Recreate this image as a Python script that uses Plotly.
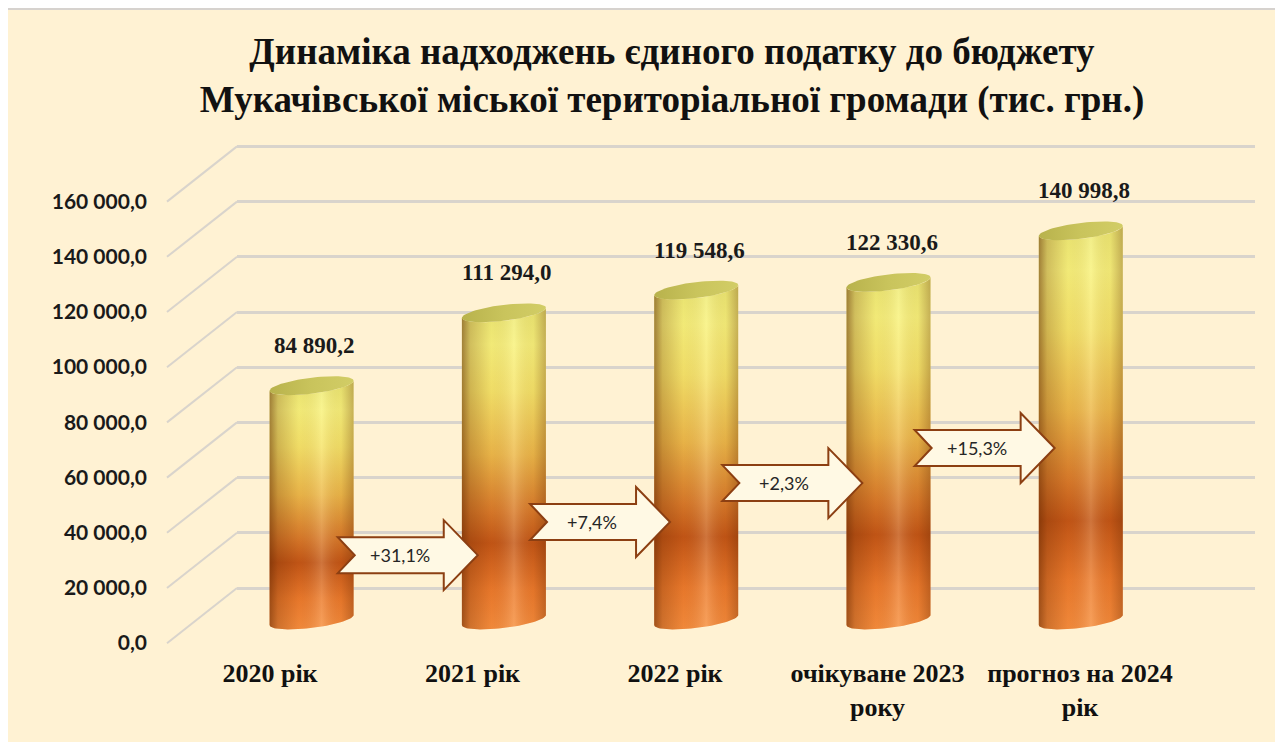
import numpy as np
import plotly.graph_objects as go

# ---------------- data ----------------
categories = ["2020 рік", "2021 рік", "2022 рік", "очікуване 2023<br>року", "прогноз на 2024<br>рік"]
values = [84890.2, 111294.0, 119548.6, 122330.6, 140998.8]
y_ticks = [0, 20000, 40000, 60000, 80000, 100000, 120000, 140000, 160000]
title_text = "Динаміка надходжень єдиного податку до бюджету<br>Мукачівської міської територіальної громади (тис. грн.)"

# growth arrows: vertical level (value units on bar axis) where each arrow sits
arrow_levels = [23500, 35500, 49600, 62300]

# ---------------- geometry (pixels of the target picture) ----------------
OFF = 8                    # page body margin
W, H = 1283 - OFF, 742 - OFF
S = 55.2 / 20000          # pixels per value unit
TOP, BOT = 130, 700       # vertical extent of plotting domain
BACK0, BAR0, LAB0 = 588, 620, 643   # pixel row of value 0 on back wall / bars / labels
U = 192.3                  # px per category on bar axis
BAR_X0 = 311.6 - OFF       # px of first bar centre (figure coords)
LAB_U, LAB_X0 = 202.5, 270 - OFF  # category label spacing / first label centre


def yrange(p0):
    return [(p0 - BOT) / S, (p0 - TOP) / S]


def py(p):
    return 1 - (p - OFF) / H


def px(p):
    return (p - OFF) / W


FONT_SERIF = "Liberation Serif"
FONT_SANS = "Lato"
GRID = "#D9D4CC"
BG = "#FFF2D3"

fig = go.Figure()

# invisible helper traces so every axis pair is created
fig.add_trace(go.Scatter(x=[0.5], y=[0], xaxis="x", yaxis="y", mode="markers",
                         marker=dict(opacity=0), hoverinfo="skip", showlegend=False))
fig.add_trace(go.Scatter(x=[0], y=[0], xaxis="x3", yaxis="y3", mode="markers",
                         marker=dict(opacity=0), hoverinfo="skip", showlegend=False))

# ---------------- cylinders ----------------
hw = 42 / U                # half width (x units)
e = 8 / S                  # ellipse semi-minor (value units)
t = 5 / S                  # tilt (value units)
th_bot = np.linspace(np.pi, 2 * np.pi, 40)
th_topfront = np.linspace(2 * np.pi, np.pi, 40)
th_full = np.linspace(0, 2 * np.pi, 80)

body_scale = [
    [0.0, "#F68C3C"], [0.12, "#EC7A2C"], [0.27, "#C45616"], [0.37, "#D97A2A"],
    [0.55, "#EDB84A"], [0.75, "#F6E46A"], [0.9, "#F8F27C"], [1.0, "#EEEA74"],
]
shade_scale = [
    [0.0, "rgba(90,35,0,0.55)"], [0.1, "rgba(90,35,0,0.25)"], [0.35, "rgba(90,35,0,0.04)"],
    [0.62, "rgba(255,255,235,0.18)"], [0.85, "rgba(90,35,0,0.06)"], [1.0, "rgba(90,35,0,0.32)"],
]

for i, v in enumerate(values):
    c = i
    bx = list(c + hw * np.cos(th_bot)) + list(c + hw * np.cos(th_topfront))
    by = list((e * np.sin(th_bot) + t * np.cos(th_bot))) + \
        list(v + e * np.sin(th_topfront) + t * np.cos(th_topfront))
    bx.append(bx[0])
    by.append(by[0])
    fig.add_trace(go.Scatter(
        x=bx, y=by, xaxis="x2", yaxis="y2", mode="lines", fill="toself",
        line=dict(width=0), hoverinfo="skip", showlegend=False,
        fillgradient=dict(type="vertical", colorscale=body_scale, start=-e, stop=v),
    ))
    fig.add_trace(go.Scatter(
        x=bx, y=by, xaxis="x2", yaxis="y2", mode="lines", fill="toself",
        line=dict(width=0), hoverinfo="skip", showlegend=False,
        fillgradient=dict(type="horizontal", colorscale=shade_scale, start=c - hw, stop=c + hw),
    ))
    ex = c + hw * np.cos(th_full)
    ey = v + e * np.sin(th_full) + t * np.cos(th_full)
    fig.add_trace(go.Scatter(
        x=ex, y=ey, xaxis="x2", yaxis="y2", mode="lines", fill="toself",
        line=dict(width=0), hoverinfo="skip", showlegend=False,
        fillgradient=dict(type="horizontal",
                          colorscale=[[0, "#B8B24C"], [0.5, "#C9C45C"], [1, "#D2CD66"]],
                          start=c - hw, stop=c + hw),
    ))

annotations = []
# value labels
for i, v in enumerate(values):
    txt = f"{v:,.1f}".replace(",", " ").replace(".", ",")
    annotations.append(dict(x=i, y=v, xref="x2", yref="y2", text=txt, showarrow=False,
                            yshift=40, xshift=3, yanchor="middle",
                            font=dict(family=FONT_SERIF, size=23, color="#1A1A1A", weight="bold")))

# ---------------- growth arrows ----------------
shapes = []
L, hl, bh, hh, n = 140 / U, 34 / U, 18 / S, 35 / S, 17 / U
for k in range(len(values) - 1):
    growth = (values[k + 1] / values[k] - 1) * 100
    cx = (k + k + 1) / 2
    cy = arrow_levels[k]
    x0, x1 = cx - L / 2, cx + L / 2
    xb = x1 - hl
    pts = [(x0, cy + bh), (xb, cy + bh), (xb, cy + hh), (x1, cy), (xb, cy - hh),
           (xb, cy - bh), (x0, cy - bh), (x0 + n, cy)]
    path = "M " + " L ".join(f"{a:.5f},{b:.3f}" for a, b in pts) + " Z"
    shapes.append(dict(type="path", path=path, xref="x2", yref="y2", layer="above",
                       fillcolor="#FFF9E4", line=dict(color="#8C3F12", width=2)))
    annotations.append(dict(x=cx, y=cy, xref="x2", yref="y2", xshift=-8, showarrow=False,
                            text=f"+{growth:.1f}%".replace(".", ","),
                            font=dict(family=FONT_SANS, size=18, color="#262626")))

# ---------------- background & wall edges ----------------
shapes.insert(0, dict(type="rect", xref="paper", yref="paper", x0=px(6), x1=1.01, y0=-0.02, y1=py(9),
                      fillcolor=BG, line=dict(color="#D6D2CE", width=2), layer="below"))
for v in y_ticks:
    shapes.append(dict(type="line", xref="paper", yref="y", x0=px(167), x1=px(237),
                       y0=v - 20000, y1=v, line=dict(color=GRID, width=2), layer="below"))

dom_y = [py(BOT), py(TOP)]
fig.update_layout(
    width=W, height=H, margin=dict(l=0, r=0, t=0, b=0),
    paper_bgcolor="white", plot_bgcolor="rgba(0,0,0,0)",
    separators=", ", showlegend=False,
    title=dict(text=title_text, x=px(672), xanchor="center", y=py(64), yanchor="middle",
               font=dict(family=FONT_SERIF, size=37, color="#111111", weight="bold")),
    xaxis=dict(domain=[px(237), px(1255)], anchor="y", range=[0, 1], visible=False),
    yaxis=dict(domain=dom_y, anchor="x", range=yrange(BACK0), tickvals=y_ticks,
               showticklabels=False, showgrid=True, gridcolor=GRID, gridwidth=2.5,
               zeroline=False, ticks=""),
    xaxis2=dict(domain=[0, 1], anchor="y2", range=[(0 - BAR_X0) / U, (W - BAR_X0) / U],
                visible=False),
    yaxis2=dict(domain=dom_y, anchor="x2", range=yrange(BAR0), visible=False),
    yaxis3=dict(overlaying="y2", anchor="free", position=px(147), side="left",
                range=yrange(LAB0), tickvals=y_ticks, tickformat=",.1f",
                showgrid=False, zeroline=False, showline=False, ticks="",
                tickfont=dict(family=FONT_SANS, size=21, color="#1A1A1A", weight="bold")),
    xaxis3=dict(overlaying="x2", anchor="free", position=py(655), side="bottom",
                range=[(0 - LAB_X0) / LAB_U, (W - LAB_X0) / LAB_U],
                tickvals=list(range(len(categories))), ticktext=categories,
                showgrid=False, zeroline=False, showline=False, ticks="",
                tickfont=dict(family=FONT_SERIF, size=26, color="#111111", weight="bold")),
    shapes=shapes, annotations=annotations,
)

fig.write_html("out.html", config={"displayModeBar": False})
